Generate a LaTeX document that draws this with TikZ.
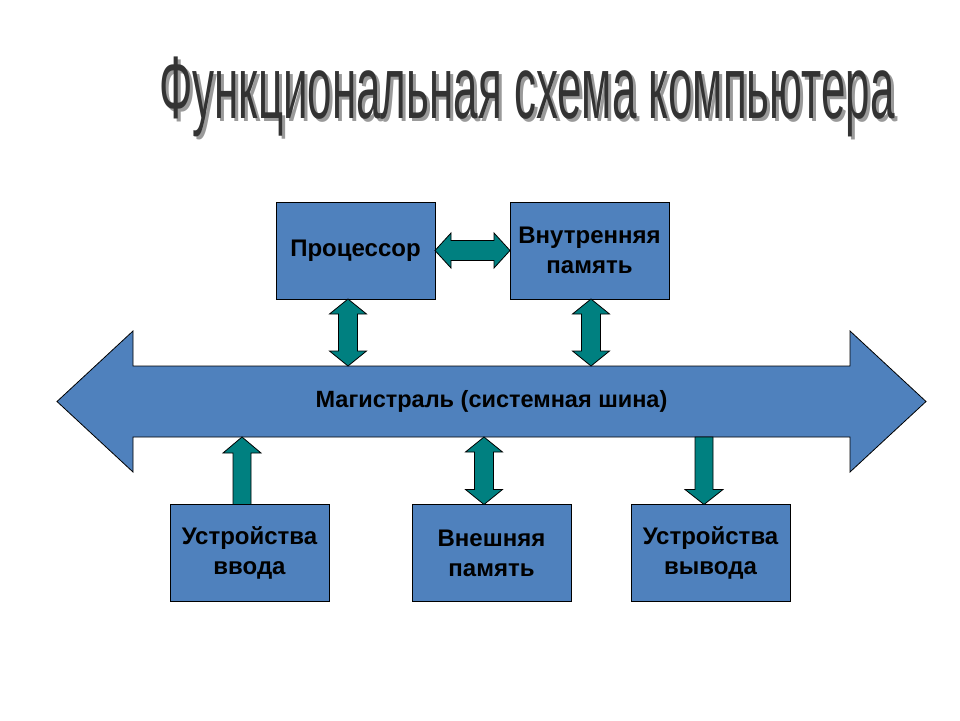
\documentclass[tikz,border=0pt]{standalone}
\usepackage{graphicx}
\usepackage{fontspec}
\setmainfont{Liberation Sans}
\usetikzlibrary{calc}
\usetikzlibrary{backgrounds}

\definecolor{boxblue}{HTML}{4F81BD}
\definecolor{arrowteal}{HTML}{008080}
\definecolor{titlegray}{HTML}{333333}
\definecolor{shadowgray}{HTML}{9A9A9A}

% block arrows: #1 upper point (gives x), #2 lower point
\newcommand{\vblockboth}[2]{%
  \draw[block arrow] let \p1=(#1), \p2=(#2) in
    (\x1,\y1) -- (\x1+18.5pt,\y1-15pt) -- (\x1+9.5pt,\y1-15pt) -- (\x1+9.5pt,\y2+15pt)
    -- (\x1+18.5pt,\y2+15pt) -- (\x1,\y2) -- (\x1-18.5pt,\y2+15pt) -- (\x1-9.5pt,\y2+15pt)
    -- (\x1-9.5pt,\y1-15pt) -- (\x1-18.5pt,\y1-15pt) -- cycle;}
\newcommand{\vblockup}[2]{%
  \draw[block arrow] let \p1=(#1), \p2=(#2) in
    (\x1,\y1) -- (\x1+19pt,\y1-16pt) -- (\x1+9pt,\y1-16pt) -- (\x1+9pt,\y2)
    -- (\x1-9pt,\y2) -- (\x1-9pt,\y1-16pt) -- (\x1-19pt,\y1-16pt) -- cycle;}
\newcommand{\vblockdown}[2]{%
  \draw[block arrow] let \p1=(#1), \p2=(#2) in
    (\x1-9pt,\y1) -- (\x1+9pt,\y1) -- (\x1+9pt,\y2+15pt) -- (\x1+19pt,\y2+15pt)
    -- (\x1,\y2) -- (\x1-19pt,\y2+15pt) -- (\x1-9pt,\y2+15pt) -- cycle;}
% #1 left point (gives y), #2 right point
\newcommand{\hblockboth}[2]{%
  \draw[block arrow] let \p1=(#1), \p2=(#2) in
    (\x1,\y1) -- (\x1+16pt,\y1+17.5pt) -- (\x1+16pt,\y1+10pt) -- (\x2-16pt,\y1+10pt)
    -- (\x2-16pt,\y1+17.5pt) -- (\x2,\y1) -- (\x2-16pt,\y1-17.5pt) -- (\x2-16pt,\y1-10pt)
    -- (\x1+16pt,\y1-10pt) -- (\x1+16pt,\y1-17.5pt) -- cycle;}

\begin{document}
\begin{tikzpicture}[x=1pt, y=-1pt]
            \tikzstyle{unit} = [draw, fill=boxblue, line width=0.8pt, minimum width=159pt, minimum height=97pt,
                                outer sep=0pt, align=center, font=\bfseries\fontsize{24}{30}\selectfont]
            \tikzstyle{block arrow} = [draw, fill=arrowteal, line width=0.8pt, line join=miter]
            \tikzstyle{bus body} = [draw, fill=boxblue, line width=0.8pt]
            \useasboundingbox (0,0) rectangle (960,720);

            \node[text=shadowgray] (titleshadow) at (530,100)
                {\resizebox*{735pt}{80pt}{Функциональная схема компьютера}};
            \node[text=titlegray] (title) at (527,97)
                {\resizebox*{735pt}{80pt}{Функциональная схема компьютера}};

            \node[unit] (cpu) at (355.5,250.5) {Процессор};
            \node[unit] (ram) at (589.5,250.5) {Внутренняя\\память};
            \node[outer sep=0pt, minimum width=717pt, minimum height=71pt,
                  font=\bfseries\fontsize{23.5}{28}\selectfont] (bus) at (491.5,401.5) {Магистраль (системная шина)};
            \node[unit] (input) at (249.5,553) {Устройства\\ввода};
            \node[unit] (disk) at (491.5,553) {Внешняя\\память};
            \node[unit] (output) at (710.5,553) {Устройства\\вывода};

            \begin{scope}[on background layer]
                \draw[bus body] (bus.north west) -- (bus.north east) -- ($(bus.north east)+(0,-35)$)
                    -- ($(bus.east)+(76,0)$) -- ($(bus.south east)+(0,35)$) -- (bus.south east)
                    -- (bus.south west) -- ($(bus.south west)+(0,35)$) -- ($(bus.west)+(-76,0)$)
                    -- ($(bus.north west)+(0,-35)$) -- cycle;
            \end{scope}

            \coordinate (cpuport) at ([xshift=-7.5pt]cpu.south);
            \coordinate (ramport) at ([xshift=1.5pt]ram.south);
            \coordinate (inport) at ([xshift=-7.5pt]input.north);
            \coordinate (diskport) at ([xshift=-7.5pt]disk.north);
            \coordinate (outport) at ([xshift=-6.5pt]output.north);

            \hblockboth{cpu.east}{ram.west}
            \vblockboth{cpuport}{cpuport |- bus.north}
            \vblockboth{ramport}{ramport |- bus.north}
            \vblockup{inport |- bus.south}{inport}
            \vblockboth{diskport |- bus.south}{diskport}
            \vblockdown{outport |- bus.south}{outport}
        \end{tikzpicture}
\end{document}
